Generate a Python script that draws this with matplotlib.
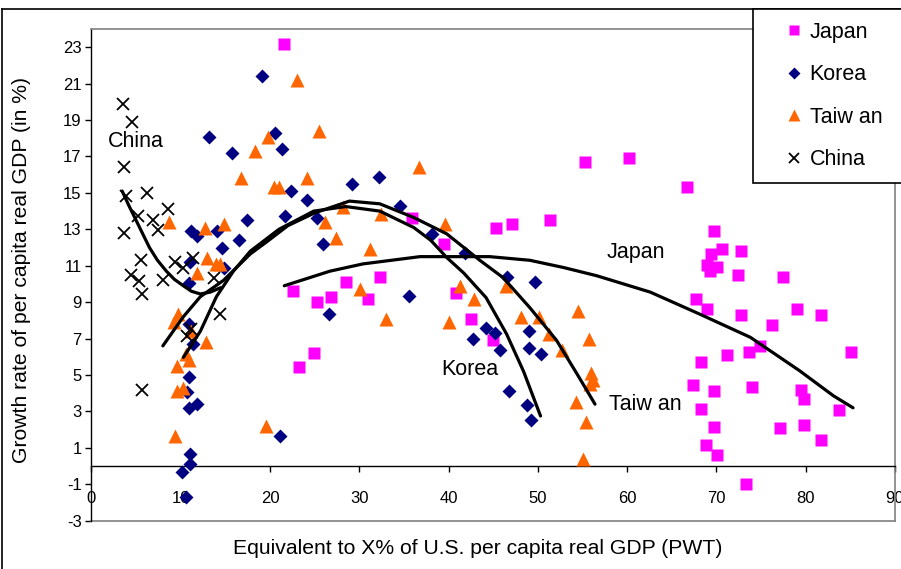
import matplotlib
matplotlib.use("Agg")
import matplotlib.pyplot as plt
from matplotlib.patches import Rectangle
from matplotlib.lines import Line2D

plt.rcParams['font.family'] = ['Liberation Sans', 'DejaVu Sans']
plt.rcParams['axes.unicode_minus'] = False

# scatter data (x = % of US per capita GDP, y = growth %)
japan_x = [21.6, 22.6, 25.3, 26.8, 24.9, 23.2, 28.5, 32.3, 31.0, 35.9, 39.5, 40.8, 42.5,
           45.0, 45.3, 47.1, 51.4, 55.3, 60.2, 66.7, 69.7, 70.6, 72.8, 69.4, 68.9, 70.1,
           69.3, 72.4, 77.5, 67.7, 69.0, 72.8, 79.0, 81.7, 76.2, 74.9, 73.7, 71.2, 85.1,
           68.3, 67.4, 69.7, 74.0, 79.5, 79.8, 68.3, 83.7, 69.7, 77.1, 79.8, 68.8, 70.1,
           81.7, 73.3]
japan_y = [23.2, 9.6, 9.0, 9.3, 6.2, 5.45, 10.1, 10.4, 9.2, 13.6, 12.2, 9.5, 8.1,
           6.9, 13.05, 13.3, 13.5, 16.7, 16.9, 15.35, 12.9, 11.9, 11.8, 11.65, 11.05, 10.95,
           10.7, 10.5, 10.4, 9.2, 8.65, 8.3, 8.6, 8.3, 7.75, 6.6, 6.25, 6.1, 6.25,
           5.7, 4.45, 4.1, 4.35, 4.2, 3.7, 3.15, 3.07, 2.16, 2.07, 2.25, 1.17, 0.62,
           1.43, -1.0]

korea_x = [19.1, 13.2, 20.6, 21.4, 15.8, 22.3, 24.1, 17.4, 21.7, 25.3, 11.1, 11.8, 14.1,
           16.5, 14.6, 25.9, 14.8, 11.0, 10.9, 10.9, 11.4, 10.9, 10.7, 10.9, 11.8, 21.1,
           26.6, 11.0, 11.0, 10.2, 10.6, 29.2, 32.2, 34.6, 38.2, 35.6, 41.8, 46.5, 49.7,
           44.2, 42.7, 45.2, 45.8, 49.0, 49.0, 50.3, 46.8, 48.8, 49.2]
korea_y = [21.4, 18.05, 18.3, 17.4, 17.2, 15.1, 14.6, 13.5, 13.75, 13.6, 12.9, 12.65, 12.9,
           12.4, 11.95, 12.2, 10.9, 11.2, 10.05, 7.8, 6.7, 4.87, 4.04, 3.2, 3.4, 1.66,
           8.35, 0.65, 0.1, -0.3, -1.7, 15.5, 15.85, 14.3, 12.75, 9.35, 11.7, 10.4, 10.1,
           7.6, 6.95, 7.3, 6.4, 7.4, 6.5, 6.15, 4.1, 3.37, 2.54]

taiwan_x = [23.0, 19.8, 18.3, 25.5, 16.7, 20.5, 21.0, 24.1, 8.7, 12.7, 14.9, 26.2, 27.4,
            12.9, 13.9, 14.4, 11.8, 9.7, 9.2, 11.1, 12.8, 10.6, 9.6, 10.9, 9.6, 10.3,
            9.4, 19.6, 36.7, 28.2, 32.4, 39.6, 31.2, 30.1, 33.0, 40.1, 41.3, 42.9, 46.4,
            48.1, 50.1, 51.2, 52.7, 54.5, 55.7, 55.9, 56.2, 55.8, 54.3, 55.4, 55.1]
taiwan_y = [21.2, 18.05, 17.3, 18.4, 15.8, 15.35, 15.3, 15.8, 13.4, 13.05, 13.3, 13.4, 12.5,
            11.4, 11.1, 11.1, 10.6, 8.35, 7.9, 7.4, 6.8, 6.15, 5.5, 5.8, 4.1, 4.3,
            1.66, 2.2, 16.4, 14.2, 13.85, 13.3, 11.9, 9.75, 8.1, 7.9, 9.9, 9.2, 9.9,
            8.2, 8.2, 7.25, 6.4, 8.5, 7.0, 5.1, 4.7, 4.5, 3.5, 2.4, 0.4]

china_x = [3.5, 4.6, 3.7, 3.9, 6.2, 5.2, 6.9, 8.6, 7.5, 3.7, 5.5, 9.4, 11.4, 10.3, 4.4,
           5.3, 8.0, 5.7, 13.7, 14.4, 10.7, 11.1, 5.7]
china_y = [19.9, 18.9, 16.4, 14.85, 15.0, 13.75, 13.5, 14.1, 12.95, 12.8, 11.3, 11.2, 11.4,
           10.9, 10.5, 10.15, 10.2, 9.45, 10.3, 8.35, 7.15, 7.5, 4.15]

# trend curves
japan_fit_x = [21.6, 26.7, 30.4, 36.8, 44.6, 49.1, 52.9, 56.6, 62.6, 68.1, 73.8, 79.3, 83.1, 85.3]
japan_fit_y = [9.9, 10.7, 11.1, 11.5, 11.5, 11.3, 10.9, 10.45, 9.55, 8.35, 7.07, 5.24, 3.86, 3.2]

korea_fit_x = [10.3, 12.2, 14.0, 15.9, 17.8, 21.0, 24.9, 28.5, 32.3, 36.1, 38.0, 39.8, 41.7,
               44.2, 46.5, 48.4, 50.3]
korea_fit_y = [5.97, 7.4, 9.3, 10.7, 11.8, 13.0, 14.0, 14.25, 14.0, 13.1, 12.4, 11.45, 10.6,
               9.25, 7.25, 5.2, 2.75]

taiwan_fit_x = [8.0, 10.3, 12.2, 14.8, 17.8, 19.6, 22.0, 25.0, 28.9, 32.3, 36.1, 39.8, 43.5,
                46.1, 49.1, 52.1, 54.4, 56.4]
taiwan_fit_y = [6.6, 8.2, 9.3, 10.2, 11.65, 12.3, 13.2, 13.9, 14.55, 14.4, 13.65, 12.75, 11.3,
                10.35, 8.7, 6.9, 5.05, 3.4]

china_fit_x = [3.45, 4.2, 5.0, 5.8, 6.5, 7.4, 8.4, 9.3, 10.3, 11.2, 12.2, 13.3, 14.5]
china_fit_y = [15.1, 14.3, 13.5, 12.7, 12.0, 11.3, 10.7, 10.25, 9.9, 9.6, 9.45, 9.55, 9.8]

labels = ['Japan', 'Korea', 'Taiw an', 'China']
colors = ['#FF00FF', '#000080', '#FF6600', 'black']

fig = plt.figure(figsize=(9.01, 5.69), dpi=100)
ax = fig.add_axes([91.4 / 901, 1 - 520.7 / 569, (895 - 91.4) / 901, (520.7 - 29) / 569])

ax.set_xlim(0, 90)
ax.set_ylim(-3, 24)

h1, = ax.plot(japan_x, japan_y, 's', color=colors[0], ms=8.5, mec='none', zorder=3)
h2, = ax.plot(korea_x, korea_y, 'D', color=colors[1], ms=6.8, mec='none', zorder=3)
h3, = ax.plot(taiwan_x, taiwan_y, '^', color=colors[2], ms=10, mec='none', zorder=3)
h4, = ax.plot(china_x, china_y, 'x', color=colors[3], ms=8.5, mew=1.3, zorder=3)

for fx, fy in [(japan_fit_x, japan_fit_y), (korea_fit_x, korea_fit_y),
               (taiwan_fit_x, taiwan_fit_y), (china_fit_x, china_fit_y)]:
    ax.plot(fx, fy, color='black', lw=2.3, solid_capstyle='round', zorder=4)

# curve names
ax.text(5.0, 17.8, 'China', fontsize=15.5, ha='center', va='center')
ax.text(61.0, 11.7, 'Japan', fontsize=15.5, ha='center', va='center')
ax.text(42.4, 5.3, 'Korea', fontsize=15.5, ha='center', va='center')
ax.text(62.0, 3.4, 'Taiw an', fontsize=15.5, ha='center', va='center')

# axes styling, Excel look
for s in ['top', 'right']:
    ax.spines[s].set_color('#808080')
    ax.spines[s].set_linewidth(1.2)
ax.spines['left'].set_color('black')
ax.spines['left'].set_linewidth(1.0)
ax.spines['bottom'].set_position(('data', 0))
ax.spines['bottom'].set_color('black')
ax.spines['bottom'].set_linewidth(1.0)
ax.plot([0, 1], [0, 0], transform=ax.transAxes, color='#808080', lw=1.2, clip_on=False)

ax.set_xticks(range(0, 91, 10))
ax.set_yticks(range(-3, 24, 2))
ax.tick_params(axis='x', direction='out', length=4, width=1, pad=14, labelsize=12)
ax.tick_params(axis='y', direction='out', length=4, width=1, pad=3, labelsize=12)

fig.text(22 / 901, 1 - 270 / 569, 'Growth rate of per capita real GDP (in %)', rotation=90,
         fontsize=15.2, ha='center', va='center')
fig.text(478 / 901, 1 - 549 / 569, 'Equivalent to X% of U.S. per capita real GDP (PWT)',
         fontsize=15.2, ha='center', va='center')

# outer chart border (cropped on right and bottom)
fig.add_artist(Line2D([1.5 / 901, 1], [1 - 9.3 / 569, 1 - 9.3 / 569], color='black', lw=1.2))
fig.add_artist(Line2D([1.5 / 901, 1.5 / 901], [0, 1 - 9.3 / 569], color='black', lw=1.2))

# legend box
fig.add_artist(Rectangle((753 / 901, 1 - 183 / 569), (901 - 753) / 901 + 0.01, (183 - 9.3) / 569,
                         transform=fig.transFigure, facecolor='white', edgecolor='black', lw=1.2,
                         zorder=5))
leg = fig.legend([h1, h2, h3, h4], labels, loc='upper left',
                 bbox_to_anchor=(772 / 901, 1 - 11 / 569), frameon=False, fontsize=15.5,
                 labelspacing=1.0, handlelength=1.0, handletextpad=0.25, borderpad=0,
                 markerscale=0.9)
leg.set_zorder(6)

fig.savefig('out.png', dpi=100, facecolor='white')
